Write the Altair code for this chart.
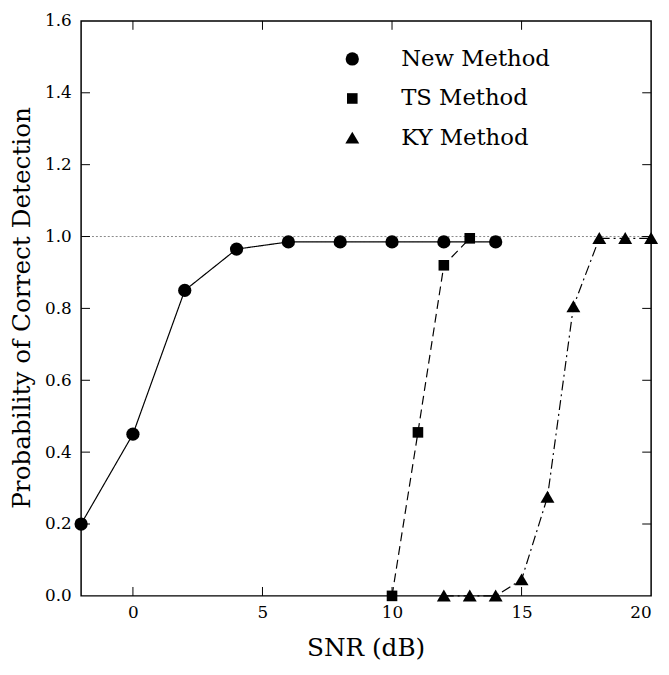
import altair as alt
import pandas as pd

# ---- data ----
new_x = [-2, 0, 2, 4, 6, 8, 10, 12, 14]
new_y = [0.20, 0.45, 0.85, 0.965, 0.985, 0.985, 0.985, 0.985, 0.985]

ts_x = [10, 11, 12, 13]
ts_y = [0.0, 0.455, 0.92, 0.995]

ky_x = [12, 13, 14, 15, 16, 17, 18, 19, 20]
ky_y = [0.0, 0.0, 0.0, 0.045, 0.275, 0.805, 0.995, 0.995, 0.995]

series = ["New Method", "TS Method", "KY Method"]

x_ticks = [0, 5, 10, 15]
x_labels = [0, 5, 10, 15, 20]
y_ticks = [0.2, 0.4, 0.6, 0.8, 1.0, 1.2, 1.4]
y_labels = [0.0, 0.2, 0.4, 0.6, 0.8, 1.0, 1.2, 1.4, 1.6]
ref_level = [1.0]

rows = []
for name, xs, ys in zip(series, [new_x, ts_x, ky_x], [new_y, ts_y, ky_y]):
    for a, b in zip(xs, ys):
        rows.append({"series": name, "snr": a, "p": b})
df = pd.DataFrame(rows)

FONT = "DejaVu Serif"
W, H = 577, 582
TL = 9

xscale = alt.Scale(domain=[-2, 20], nice=False, zero=False)
yscale = alt.Scale(domain=[0, 1.6], nice=False, zero=False)

x_axis = alt.Axis(values=x_labels, title="SNR (dB)", format="d",
                  tickSize=0, domain=False, grid=False,
                  labelFont=FONT, labelFontSize=17, labelColor="black",
                  labelPadding=9, titleFont=FONT, titleFontSize=25,
                  titleFontWeight="normal", titleColor="black",
                  titleX=288, titleY=52, titleBaseline="middle")
y_axis = alt.Axis(values=y_labels, title="Probability of Correct Detection",
                  format=".1f", tickSize=0, domain=False, grid=False,
                  labelFont=FONT, labelFontSize=17, labelColor="black",
                  labelPadding=10, titleFont=FONT, titleFontSize=25,
                  titleFontWeight="normal", titleColor="black",
                  titleX=-60, titleY=290, titleAngle=270,
                  titleAlign="center", titleBaseline="middle")

shape_scale = alt.Scale(domain=series, range=[
    "circle",
    "M-0.8,-0.8H0.8V0.8H-0.8Z",
    "M0,-0.95L1.05,0.85L-1.05,0.85Z",
])
dashes = {"New Method": [1, 0], "TS Method": [9, 5], "KY Method": [10, 4, 2, 4]}

legend = alt.Legend(title=None, orient="none", legendX=263, legendY=27,
                    labelFont=FONT, labelFontSize=23, labelColor="black",
                    symbolSize=180, symbolFillColor="black", symbolStrokeColor="black",
                    symbolOpacity=1, labelOffset=38, rowPadding=16, labelLimit=400)

ref = alt.Chart(pd.DataFrame({"v": ref_level})).mark_rule(
    color="#888888", strokeDash=[2, 2], strokeWidth=1
).encode(y=alt.Y("v:Q", scale=yscale, axis=y_axis))

line_layers = []
for name in series:
    line_layers.append(
        alt.Chart(df).transform_filter(alt.datum.series == name)
        .mark_line(color="black", strokeWidth=1.2, strokeDash=dashes[name])
        .encode(x=alt.X("snr:Q", scale=xscale, axis=x_axis),
                y=alt.Y("p:Q", scale=yscale, axis=y_axis))
    )

points = alt.Chart(df).mark_point(filled=True, color="black", opacity=1, size=180).encode(
    x=alt.X("snr:Q", scale=xscale, axis=x_axis),
    y=alt.Y("p:Q", scale=yscale, axis=y_axis),
    shape=alt.Shape("series:N", scale=shape_scale, legend=legend),
)

xt = pd.DataFrame({"v": x_ticks})
yt = pd.DataFrame({"v": y_ticks})
tick_bottom = alt.Chart(xt).mark_rule(color="black", strokeWidth=1).encode(
    x=alt.X("v:Q", scale=xscale, axis=x_axis), y=alt.value(H), y2=alt.value(H - TL))
tick_top = alt.Chart(xt).mark_rule(color="black", strokeWidth=1).encode(
    x=alt.X("v:Q", scale=xscale, axis=x_axis), y=alt.value(0), y2=alt.value(TL))
tick_left = alt.Chart(yt).mark_rule(color="black", strokeWidth=1).encode(
    y=alt.Y("v:Q", scale=yscale, axis=y_axis), x=alt.value(0), x2=alt.value(TL))
tick_right = alt.Chart(yt).mark_rule(color="black", strokeWidth=1).encode(
    y=alt.Y("v:Q", scale=yscale, axis=y_axis), x=alt.value(W), x2=alt.value(W - TL))

chart = alt.layer(ref, tick_bottom, tick_top, tick_left, tick_right, *line_layers, points).properties(
    width=W, height=H,
    autosize=alt.AutoSizeParams(type="none"),
    padding={"left": 74, "top": 9, "right": 10, "bottom": 75},
    background="white",
).configure_view(stroke="black", strokeWidth=1.5)

chart.save("out.html", embed_options={"renderer": "svg", "actions": False})
